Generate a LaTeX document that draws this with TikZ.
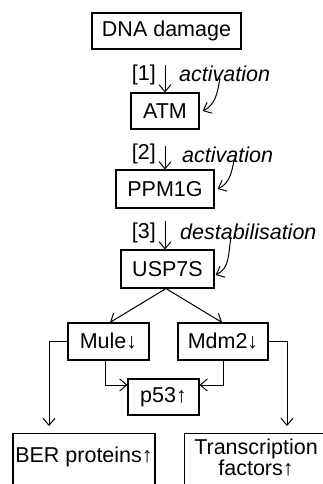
\documentclass[tikz,border=0pt]{standalone}
\usepackage{fontspec}
\setmainfont{Liberation Sans}
\usetikzlibrary{arrows.meta}
\tikzset{
  box/.style={draw=black, line width=1.1pt, inner sep=0pt, align=center, font=\fontsize{21.5}{24}\selectfont},
  txt/.style={inner sep=0pt, font=\fontsize{21.5}{24}\selectfont},
  itxt/.style={inner sep=0pt, font=\fontsize{21.5}{24}\selectfont\itshape},
  arr/.style={line width=1pt, -{Straight Barb[length=7pt,width=12pt,line width=1pt]}},
}
\begin{document}
\begin{tikzpicture}[x=1pt,y=-1pt]
\useasboundingbox (0,0) rectangle (323,484);
\clip (0,0) rectangle (323,484);
% boxes
\node[box, minimum width=149pt, minimum height=36pt] (dna) at (166.5,31) {DNA damage};
\node[box, minimum width=68pt, minimum height=36pt] (atm) at (165,111) {ATM};
\node[box, minimum width=98pt, minimum height=38pt] (ppm) at (165,189) {PPM1G};
\node[box, minimum width=93pt, minimum height=38pt] (usp) at (167.5,269) {USP7S};
\node[box, minimum width=81pt, minimum height=37pt] (mule) at (108.5,341.5) {Mule↓};
\node[box, minimum width=90pt, minimum height=37pt] (mdm) at (223,341.5) {Mdm2↓};
\node[box, minimum width=71pt, minimum height=36pt] (p53) at (163.5,397) {p53↑};
\node[box, minimum width=142pt, minimum height=70pt, anchor=north] (berbox) at (84,433) {};
\node[txt] (ber) at (84,457) {BER proteins↑};
\node[box, minimum width=150pt, minimum height=70pt, anchor=north west] (trbox) at (184,433) {};
\node[txt, align=center, font=\fontsize{21.5}{20}\selectfont] (tr) at (256,458) {Transcription\\factors↑};
% labels
\node[txt, anchor=east] (l1) at (156,75) {[1]};
\node[txt, anchor=east] (l2) at (156,154) {[2]};
\node[txt, anchor=east] (l3) at (156,233) {[3]};
\node[itxt, anchor=west] (a1) at (179,74) {activation};
\node[itxt, anchor=west] (a2) at (182,155) {activation};
\node[itxt, anchor=west] (a3) at (180,232) {destabilisation};
% main arrows
\draw[arr, shorten <=15pt] ([xshift=-1.5pt]dna.south) -- (atm.north);
\draw[arr, shorten <=16pt] (atm.south) -- (ppm.north);
\draw[arr, shorten <=12pt] (ppm.south) -- ([xshift=-2.5pt]usp.north);
% curved arrows
\draw[arr] ([xshift=41pt,yshift=4pt]a1.south west) to[out=-100,in=25] ([xshift=3pt]atm.east);
\draw[arr] ([xshift=52pt,yshift=3pt]a2.south west) to[out=-100,in=25] ([xshift=3pt]ppm.east);
\draw[arr] ([xshift=51pt,yshift=3pt]a3.south west) to[out=-100,in=25] ([xshift=1pt,yshift=-6pt]usp.east);
% USP7S branches
\draw[arr] ([xshift=-1.5pt]usp.south) -- ([xshift=1.5pt]mule.north);
\draw[arr] ([xshift=-1.5pt]usp.south) -- ([xshift=-1pt]mdm.north);
% lower connectors
\draw[arr, shorten >=7pt] (mule.west) -| ([xshift=-35pt]berbox.north);
\draw[arr, shorten >=7pt] (mdm.east) -| ([xshift=103pt]trbox.north west);
\draw[arr] ([xshift=-3.5pt]mule.south) |- ([yshift=12pt]p53.west);
\draw[arr] (mdm.south) |- ([yshift=12pt]p53.east);
\end{tikzpicture}
\end{document}
